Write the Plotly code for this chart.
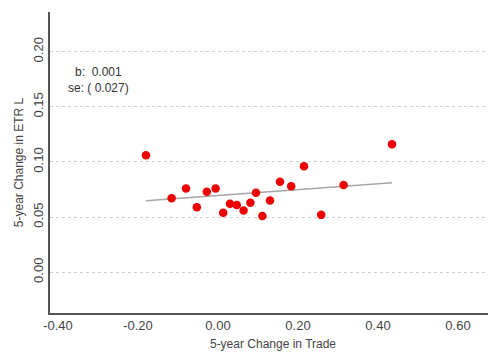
import plotly.graph_objects as go

trade_change = [-0.180, -0.116, -0.080, -0.053, -0.028, -0.006, 0.013, 0.030, 0.047, 0.064,
                0.081, 0.095, 0.111, 0.130, 0.155, 0.183, 0.215, 0.258, 0.314, 0.435]
etr_change = [0.106, 0.067, 0.076, 0.059, 0.073, 0.076, 0.054, 0.062, 0.061, 0.056,
              0.063, 0.072, 0.051, 0.065, 0.082, 0.078, 0.096, 0.052, 0.079, 0.116]
trend_x = [-0.180, 0.435]
trend_y = [0.0648, 0.0812]
x_ticks = [-0.40, -0.20, 0.00, 0.20, 0.40, 0.60]
x_labels = ["-0.40", "-0.20", "0.00", "0.20", "0.40", "0.60"]
y_ticks = [0.00, 0.05, 0.10, 0.15, 0.20]
y_labels = ["0.00", "0.05", "0.10", "0.15", "0.20"]
stat_text = "b:  0.001<br>se: ( 0.027)"

fig = go.Figure()
fig.add_trace(go.Scatter(x=trend_x, y=trend_y, mode="lines",
                         line=dict(color="#a6a6a6", width=1.5), hoverinfo="skip"))
fig.add_trace(go.Scatter(x=trade_change, y=etr_change, mode="markers",
                         marker=dict(color="#ee0000", size=8.5)))

font = dict(family="Liberation Sans, Arial, sans-serif", size=12, color="#444")
# page body has an 8px default margin, so the figure is sized to fit the window
fig.update_layout(
    width=488, height=344, showlegend=False,
    margin=dict(l=42, r=0, t=4, b=39),
    paper_bgcolor="white", plot_bgcolor="white", font=font,
    xaxis=dict(range=[-0.42, 0.695], tickvals=x_ticks, ticktext=x_labels,
               automargin=False,
               showgrid=False, zeroline=False, showline=True, linecolor="#555",
               linewidth=1.5, ticks="", tickfont=dict(size=13, color="#444"),
               title=dict(text="5-year Change in Trade", standoff=7,
                          font=dict(size=12, color="#444"))),
    yaxis=dict(range=[-0.037, 0.236], tickvals=y_ticks, ticktext=y_labels,
               automargin=False,
               tickangle=-90, showgrid=True, gridcolor="#d0d0d0", griddash="dot",
               gridwidth=1, zeroline=False, showline=True, linecolor="#555",
               linewidth=1.5, ticks="", tickfont=dict(size=13, color="#444"),
               title=dict(text="5-year Change in ETR L", standoff=5,
                          font=dict(size=12, color="#444"))),
)
fig.add_annotation(xref="x", yref="y", x=-0.30, y=0.174, text=stat_text,
                   showarrow=False, align="center",
                   font=dict(size=12, color="#333",
                             family="Liberation Sans, Arial, sans-serif"))
fig.write_html("out.html")
